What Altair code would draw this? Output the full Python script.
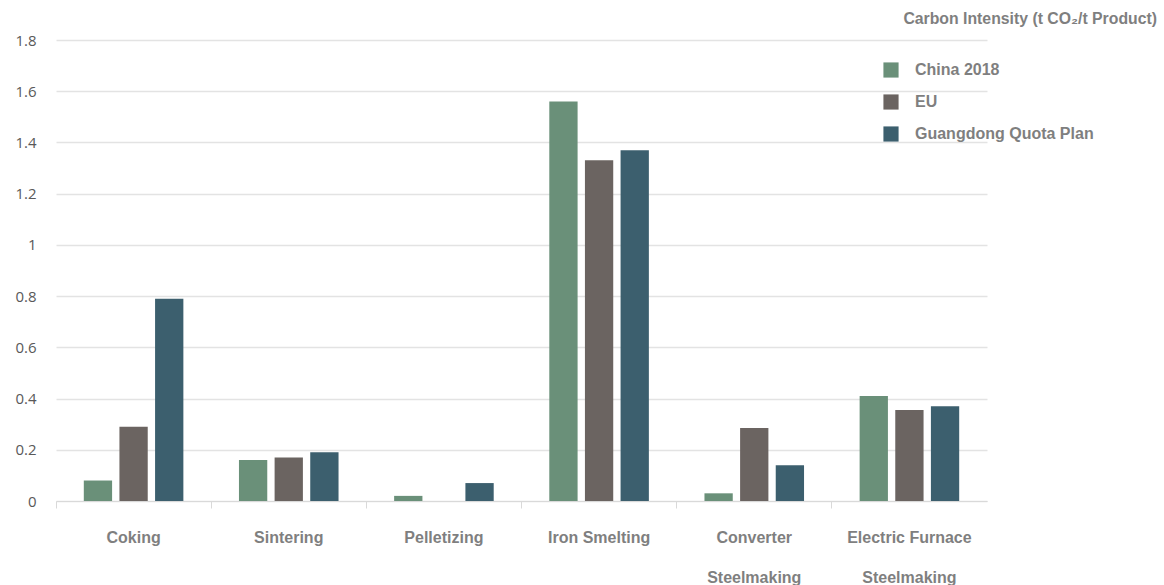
import altair as alt
import pandas as pd

categories = ["Coking", "Sintering", "Pelletizing", "Iron Smelting",
              "Converter Steelmaking", "Electric Furnace Steelmaking"]
series = ["China 2018", "EU", "Guangdong Quota Plan"]
china_2018 = [0.08, 0.16, 0.02, 1.56, 0.03, 0.41]
eu = [0.29, 0.17, 0.0, 1.33, 0.285, 0.355]
guangdong = [0.79, 0.19, 0.07, 1.37, 0.14, 0.37]
colors = ["#6a9079", "#6b6461", "#3c5f6e"]
y_ticks = [0, 0.2, 0.4, 0.6, 0.8, 1.0, 1.2, 1.4, 1.6, 1.8]

rows = []
for s, vals in zip(series, [china_2018, eu, guangdong]):
    for c, v in zip(categories, vals):
        rows.append({"category": c, "series": s, "value": v})
df = pd.DataFrame(rows)

chart = alt.Chart(df).mark_bar().encode(
    x=alt.X("category:N", sort=categories,
            scale=alt.Scale(paddingInner=0, paddingOuter=0),
            axis=alt.Axis(title=None, labelAngle=0, bandPosition=0,
                          labelExpr="datum.label == 'Converter Steelmaking' ? ['Converter', 'Steelmaking'] : datum.label == 'Electric Furnace Steelmaking' ? ['Electric Furnace', 'Steelmaking'] : datum.label",
                          labelFont="Liberation Sans", labelFontSize=16, labelFontWeight="bold",
                          labelColor="#7f7f7f", labelLineHeight=40, labelPadding=21,
                          labelBaseline="top", labelLimit=300,
                          domainColor="#d9d9d9", tickColor="#d9d9d9", tickSize=7,
                          grid=False)),
    xOffset=alt.XOffset("series:N", sort=series,
                        scale=alt.Scale(paddingInner=0.206, paddingOuter=0.78)),
    y=alt.Y("value:Q", scale=alt.Scale(domain=[0, 1.8], nice=False),
            axis=alt.Axis(title=None, values=y_ticks, domain=False, ticks=False,
                          labelFont="Open Sans", labelFontSize=15, labelColor="#595959",
                          labelPadding=20, gridColor="#e3e3e3", gridWidth=1.5,
                          labelExpr="format(datum.value, '.1~f')")),
    color=alt.Color("series:N", sort=series,
                    scale=alt.Scale(domain=series, range=colors),
                    legend=alt.Legend(title=None, orient="none", legendX=827, legendY=22,
                                      symbolType="square", symbolSize=230,
                                      symbolStrokeWidth=0, labelFont="Liberation Sans",
                                      labelFontSize=16, labelFontWeight="bold",
                                      labelColor="#7f7f7f", labelOffset=16,
                                      labelLimit=400, rowPadding=16)),
).properties(
    width=931, height=461,
    autosize=alt.AutoSizeParams(type="none"),
    padding={"left": 56, "top": 40, "right": 177, "bottom": 84},
    title=alt.TitleParams(text="Carbon Intensity (t CO₂/t Product)", anchor="end",
                          frame="group", dx=170, offset=5, font="Liberation Sans",
                          fontSize=15.8, fontWeight="bold", color="#7f7f7f"),
).configure_view(stroke=None)

chart.save("out.html", embed_options={"renderer": "svg", "actions": False})
